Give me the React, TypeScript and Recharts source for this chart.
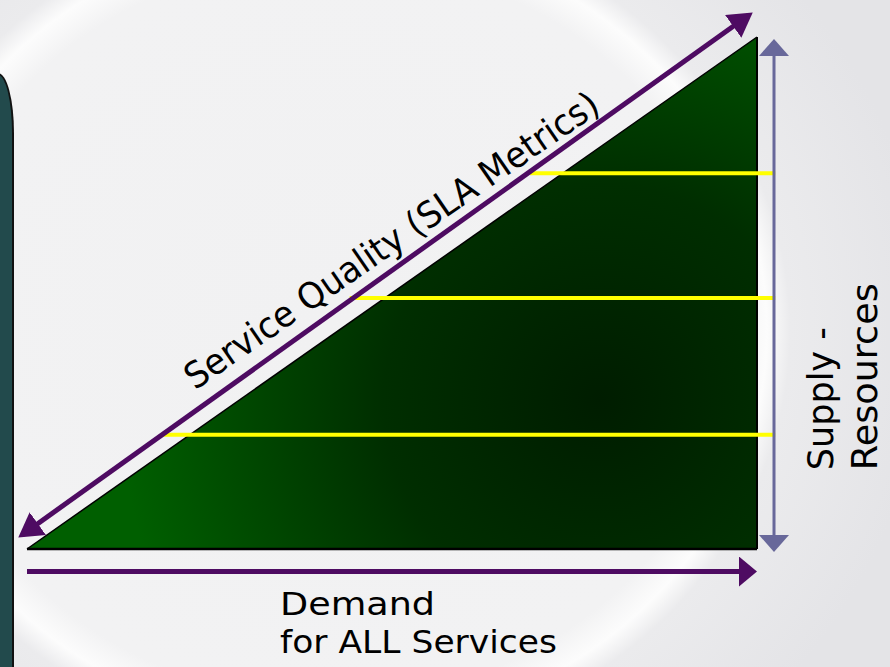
import React from "react";
import { ComposedChart, Area, XAxis, YAxis, ReferenceLine, ReferenceDot } from "recharts";

// demand (x) against supply (y), both 0..100
const demand = [0, 100];
const supply = [0, 100];

// yellow service levels: height, where they leave the quality arrow, where they stop
const levelHeight = [22.3, 49.0, 73.4];
const levelStart = [18.6, 44.2, 68.9];
const levelEnd = 102.5;

// arrows (data units)
const qualityArrow = [
  { x: -0.64, y: 2.79 },
  { x: 98.86, y: 104.24 },
];
const demandArrow = [
  { x: 0, y: -4.4 },
  { x: 99.45, y: -4.4 },
];
const supplyArrow = [
  { x: 102.33, y: 0.2 },
  { x: 102.33, y: 98.83 },
];

const captions = ["Service Quality (SLA Metrics)", "Demand", "for ALL Services", "Supply -", "Resources"];

const triangle = demand.map((d, i) => ({ demand: d, supply: supply[i] }));

const PURPLE = "#4e0b62";
const SLATE = "#68689a";
const FONT = "'DejaVu Sans', sans-serif";

const arrowLine =
  (stroke: string, width: number, start: string | undefined, end: string) => (p: any) =>
    (
      <line
        x1={p.x1}
        y1={p.y1}
        x2={p.x2}
        y2={p.y2}
        stroke={stroke}
        strokeWidth={width}
        markerStart={start ? `url(#${start})` : undefined}
        markerEnd={`url(#${end})`}
      />
    );

const caption =
  (text: string, size: number, len: number, angle: number, anchor: "start" | "middle") => (p: any) =>
    (
      <text
        x={p.cx}
        y={p.cy}
        transform={angle ? `rotate(${angle} ${p.cx} ${p.cy})` : undefined}
        fontFamily={FONT}
        fontSize={size}
        fill="#000"
        textAnchor={anchor}
        textLength={len}
        lengthAdjust="spacingAndGlyphs"
      >
        {text}
      </text>
    );

export default function App() {
  return (
    <div
      style={{
        position: "absolute",
        left: 0,
        top: 0,
        width: 890,
        height: 667,
        overflow: "hidden",
        background:
          "radial-gradient(ellipse 460px 420px at 330px 330px, #f1f1f2 0%, #f2f2f3 88%, #fcfcfc 95%, #ebebed 100%, #e4e4e7 130%)",
      }}
    >
      <div
        style={{
          position: "absolute",
          left: -2,
          top: 73,
          width: 14,
          height: 620,
          background: "#224a4c",
          borderRight: "2px solid #111",
          borderTop: "2px solid #111",
          borderTopRightRadius: "16px 60px",
        }}
      />
      <ComposedChart
        width={890}
        height={667}
        data={triangle}
        margin={{ top: 37, right: 133, bottom: 118, left: 27 }}
        style={{ position: "absolute", left: 0, top: 0 }}
      >
        <defs>
          <radialGradient id="fieldFill" gradientUnits="userSpaceOnUse" cx={600} cy={400} r={480}>
            <stop offset="0%" stopColor="#001d00" />
            <stop offset="45%" stopColor="#002e00" />
            <stop offset="100%" stopColor="#005f00" />
          </radialGradient>
          <marker id="purpleHead" markerUnits="userSpaceOnUse" markerWidth={24} markerHeight={28} refX={19} refY={14} orient="auto-start-reverse">
            <path d="M0,0 L24,14 L0,28 Z" fill={PURPLE} />
          </marker>
          <marker id="demandHead" markerUnits="userSpaceOnUse" markerWidth={18} markerHeight={30} refX={14} refY={15} orient="auto">
            <path d="M0,0 L18,15 L0,30 Z" fill={PURPLE} />
          </marker>
          <marker id="slateHead" markerUnits="userSpaceOnUse" markerWidth={17} markerHeight={30} refX={13} refY={15} orient="auto-start-reverse">
            <path d="M0,0 L17,15 L0,30 Z" fill={SLATE} />
          </marker>
        </defs>
        <XAxis dataKey="demand" type="number" domain={[0, 100]} hide />
        <YAxis type="number" domain={[0, 100]} hide />
        <Area
          dataKey="supply"
          type="linear"
          baseValue={0}
          fill="url(#fieldFill)"
          fillOpacity={1}
          stroke="#000"
          strokeWidth={1.5}
          isAnimationActive={false}
        />
        <ReferenceLine segment={[{ x: 100, y: 0 }, { x: 100, y: 100 }]} stroke="#000" strokeWidth={2} ifOverflow="visible" />
        <ReferenceLine segment={[{ x: 0, y: 0 }, { x: 100, y: 0 }]} stroke="#000" strokeWidth={2.5} ifOverflow="visible" />
        {levelHeight.map((h, i) => (
          <ReferenceLine
            key={i}
            segment={[{ x: levelStart[i], y: h }, { x: levelEnd, y: h }]}
            stroke="#ffff00"
            strokeWidth={4}
            ifOverflow="visible"
          />
        ))}
        <ReferenceLine
          segment={qualityArrow}
          ifOverflow="visible"
          shape={arrowLine(PURPLE, 5, "purpleHead", "purpleHead")}
        />
        <ReferenceLine segment={demandArrow} ifOverflow="visible" shape={arrowLine(PURPLE, 5, undefined, "demandHead")} />
        <ReferenceLine
          segment={supplyArrow}
          ifOverflow="visible"
          shape={arrowLine(SLATE, 3, "slateHead", "slateHead")}
        />
        <ReferenceDot x={50.9} y={58.3} r={0} ifOverflow="visible" shape={caption(captions[0], 36, 494, -34.5, "middle")} />
        <ReferenceDot x={34.66} y={-12.9} r={0} ifOverflow="visible" shape={caption(captions[1], 32, 155, 0, "start")} />
        <ReferenceDot x={34.66} y={-20.3} r={0} ifOverflow="visible" shape={caption(captions[2], 32, 277, 0, "start")} />
        <ReferenceDot x={110.4} y={15.4} r={0} ifOverflow="visible" shape={caption(captions[3], 36, 143, -90, "start")} />
        <ReferenceDot x={116.4} y={15.4} r={0} ifOverflow="visible" shape={caption(captions[4], 36, 187, -90, "start")} />
      </ComposedChart>
    </div>
  );
}
